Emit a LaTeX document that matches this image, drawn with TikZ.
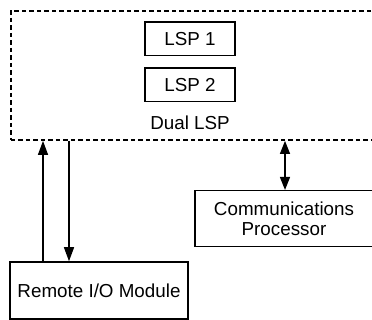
\documentclass[tikz,border=0pt]{standalone}
\usepackage{fontspec}
\setmainfont{Liberation Sans}
\usetikzlibrary{arrows.meta,calc}
\begin{document}
\begin{tikzpicture}[x=1pt,y=1pt,
  txt/.style={font=\fontsize{18.8}{20}\selectfont},
  box/.style={txt,draw,line width=1.5pt,rectangle,inner sep=0pt,align=center},
  arr/.style={line width=1.3pt,-{Triangle[length=14pt,width=10pt]}},
  darr/.style={line width=1.3pt,{Triangle[length=13pt,width=10pt]}-{Triangle[length=13pt,width=10pt]}}]
\useasboundingbox (0,0) rectangle (372,320);
\node[draw,dash pattern=on 4.5pt off 3pt,line width=1.6pt,rectangle,inner sep=0pt,minimum width=363pt,minimum height=129.3pt,anchor=north west] (dual) at (10,310) {};
\node[box,minimum width=90pt,minimum height=33.5pt] (lsp1) at (190,281.2) {LSP 1};
\node[box,minimum width=90pt,minimum height=33.5pt] (lsp2) at (190,235) {LSP 2};
\node[txt] (lbl) at (190,197) {Dual LSP};
\node[box,minimum width=178pt,minimum height=57pt] (remote) at (99,29.5) {Remote I/O Module};
\node[box,minimum width=178pt,minimum height=56pt] (comm) at (284,101.3) {Communications\\Processor};
\coordinate (upx) at (43,0);
\coordinate (downx) at (69,0);
\coordinate (commx) at (285,0);
\draw[arr] (remote.north -| upx) -- (dual.south -| upx);
\draw[arr] (dual.south -| downx) -- (remote.north -| downx);
\draw[darr] (dual.south -| commx) -- (comm.north -| commx);
\end{tikzpicture}
\end{document}
